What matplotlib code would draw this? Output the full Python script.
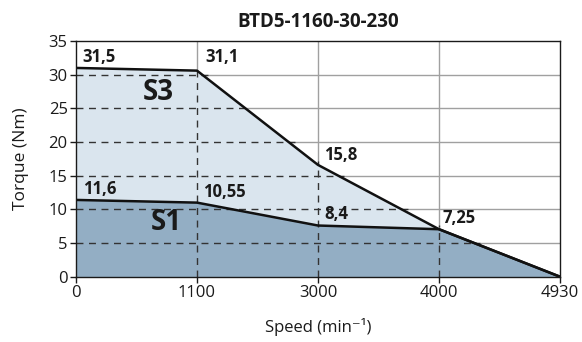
import numpy as np
import matplotlib
matplotlib.use("Agg")
import matplotlib.pyplot as plt

plt.rcParams['font.family'] = ['Open Sans', 'DejaVu Sans']

# ---- data ----
speeds = [0, 1100, 3000, 4000, 4930]
s3_torque = [31.0, 30.6, 16.6, 7.05, 0.0]
s1_torque = [11.4, 11.0, 7.6, 7.05, 0.0]
s3_labels = ["31,5", "31,1", "15,8", "7,25"]
s1_labels = ["11,6", "10,55", "8,4"]
yticks = [0, 5, 10, 15, 20, 25, 30, 35]
title = "BTD5-1160-30-230"

pos = np.arange(len(speeds))

fig = plt.figure(figsize=(5.82, 3.42), dpi=100)
ax = fig.add_axes([76/582, 1-276.7/342, (560-76)/582, (276.7-41)/342])

ax.set_xlim(0, len(speeds)-1)
ax.set_ylim(0, 35)

# solid grid
for x in pos[1:-1]:
    ax.axvline(x, color='#a0a0a0', lw=1.0, zorder=0.5)
for y in yticks[1:-1]:
    ax.axhline(y, color='#a0a0a0', lw=1.0, zorder=0.5)

# fills
ax.fill_between(pos, s3_torque, color='#dae5ee', zorder=1)
ax.fill_between(pos, s1_torque, color='#93aec4', zorder=1.2)

# dashed grid inside the S3 region
s3 = np.array(s3_torque)
for y in yticks[1:-1]:
    xend = np.interp(y, s3[::-1], pos[::-1])
    ax.plot([0, xend + 0.05], [y, y], color='#333333', lw=1.0,
            dashes=(5, 4), zorder=2)
for i in pos[1:-1]:
    ax.plot([i, i], [0, s3[i] + 0.6], color='#333333', lw=1.0,
            dashes=(5, 4), zorder=2)

# curves
ax.plot(pos, s3_torque, color='#111111', lw=1.8, zorder=3)
ax.plot(pos, s1_torque, color='#111111', lw=1.8, zorder=3)

# value labels
s3_lab_pos = [(0.055, 31.9), (1.066, 31.9), (2.05, 17.3), (3.03, 8.0)]
s1_lab_pos = [(0.058, 12.3), (1.05, 11.8), (2.05, 8.6)]
for (x, y), t in zip(s3_lab_pos, s3_labels):
    ax.text(x, y, t, fontsize=12, fontweight='bold', ha='left',
            va='baseline', color='#1a1a1a', zorder=4)
for (x, y), t in zip(s1_lab_pos, s1_labels):
    ax.text(x, y, t, fontsize=12, fontweight='bold', ha='left',
            va='baseline', color='#1a1a1a', zorder=4)

ax.text(0.68, 27.4, "S3", fontsize=20, fontweight='bold', ha='center',
        va='center', color='#1a1a1a', zorder=4)
ax.text(0.75, 8.0, "S1", fontsize=20, fontweight='bold', ha='center',
        va='center', color='#1a1a1a', zorder=4)

ax.set_xticks(pos)
ax.set_xticklabels([str(s) for s in speeds])
ax.set_yticks(yticks)
ax.tick_params(axis='both', direction='out', length=4, width=1,
               labelsize=12, colors='#1a1a1a', pad=2)
for sp in ax.spines.values():
    sp.set_color('#1a1a1a')
    sp.set_linewidth(1.0)
    sp.set_zorder(5)

ax.set_xlabel("Speed (min\u207b\u00b9)", fontsize=12, color='#1a1a1a', labelpad=12)
ax.set_ylabel("Torque (Nm)", fontsize=12.5, color='#1a1a1a', labelpad=14)
ax.set_title(title, fontsize=13.5, fontweight='bold', color='#1a1a1a', pad=10)

fig.savefig("out.png", dpi=100)
